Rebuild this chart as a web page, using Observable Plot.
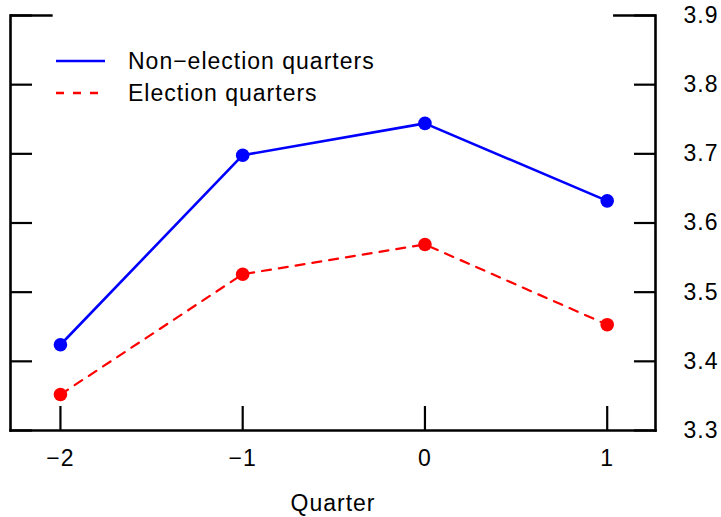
<!DOCTYPE html>
<html>
<head>
<meta charset="utf-8">
<script src="https://cdn.jsdelivr.net/npm/d3@7"></script>
<script src="https://cdn.jsdelivr.net/npm/@observablehq/plot@0.6"></script>
<style>
  html, body { margin: 0; padding: 0; background: #fff; }
  #wrap { position: relative; width: 721px; height: 517px; font-family: "Liberation Sans", Arial, sans-serif; }
  #legend { position: absolute; left: 56px; top: 45px; font-size: 23px; letter-spacing: 1px; color: #000; }
  .row { display: flex; align-items: center; height: 32px; }
  .row svg { margin-right: 23px; }
  #chart svg text { letter-spacing: 1px; }
</style>
</head>
<body>
<div id="wrap">
  <div id="chart"></div>
  <div id="legend"></div>
</div>
<script>
const quarters = [-2, -1, 0, 1];
const nonElection = [3.424, 3.698, 3.744, 3.632];
const election = [3.352, 3.526, 3.569, 3.453];
const seriesNames = ["Non\u2212election quarters", "Election quarters"];
const seriesColors = ["#0000ff", "#ff0000"];
const yTicks = [3.3, 3.4, 3.5, 3.6, 3.7, 3.8, 3.9];
const xTicks = [-2, -1, 0, 1];

const xDomain = [-2.274, 1.265];
const yDomain = [3.3, 3.9];

const data = [
  ...quarters.map((q, i) => ({q, v: nonElection[i], s: seriesNames[0]})),
  ...quarters.map((q, i) => ({q, v: election[i], s: seriesNames[1]}))
];
const nonData = data.filter(d => d.s === seriesNames[0]);
const elData = data.filter(d => d.s === seriesNames[1]);

const chart = Plot.plot({
  width: 721,
  height: 517,
  marginLeft: 10,
  marginRight: 66,
  marginTop: 15,
  marginBottom: 87,
  style: {fontFamily: "'Liberation Sans', Arial, sans-serif", fontSize: "23px", color: "#000", background: "#fff"},
  x: {domain: xDomain},
  y: {domain: yDomain},
  marks: [
    Plot.axisY(yTicks, {anchor: "left", tickSize: -22, text: null, strokeWidth: 2.2, label: null}),
    Plot.axisY(yTicks, {anchor: "right", tickSize: -22, text: null, strokeWidth: 2.2, label: null}),
    Plot.axisY(yTicks, {anchor: "right", tickSize: 0, tickPadding: 28, tickFormat: d3.format(".1f"), fontSize: 23, label: null}),
    Plot.axisX(xTicks, {anchor: "bottom", tickSize: -24, text: null, strokeWidth: 2.2, label: null}),
    Plot.axisX(xTicks, {anchor: "bottom", tickSize: 0, tickPadding: 19, tickFormat: d => d3.format("d")(d).replace("-", "\u2212"), fontSize: 23, label: "Quarter", labelAnchor: "center", labelOffset: 80, labelArrow: "none"}),
    Plot.frame({anchor: "left", strokeWidth: 2.6}),
    Plot.frame({anchor: "right", strokeWidth: 2.6}),
    Plot.frame({anchor: "bottom", strokeWidth: 2.6}),
    Plot.ruleY([yDomain[1]], {x1: xDomain[0], x2: -2.04, strokeWidth: 2.6}),
    Plot.ruleY([yDomain[1]], {x1: 1.035, x2: xDomain[1], strokeWidth: 2.6}),
    Plot.line(nonData, {x: "q", y: "v", stroke: seriesColors[0], strokeWidth: 2.6}),
    Plot.line(elData, {x: "q", y: "v", stroke: seriesColors[1], strokeWidth: 2.2, strokeDasharray: "9,8"}),
    Plot.dot(nonData, {x: "q", y: "v", fill: seriesColors[0], r: 6.8}),
    Plot.dot(elData, {x: "q", y: "v", fill: seriesColors[1], r: 6.8})
  ]
});
document.getElementById("chart").appendChild(chart);

const legend = document.getElementById("legend");
seriesNames.forEach((name, i) => {
  const row = document.createElement("div");
  row.className = "row";
  const dash = i === 1 ? ' stroke-dasharray="8,9"' : '';
  row.innerHTML = `<svg width="49" height="10"><line x1="0" y1="5" x2="49" y2="5" stroke="${seriesColors[i]}" stroke-width="2.4"${dash}/></svg><span>${name}</span>`;
  legend.appendChild(row);
});
</script>
</body>
</html>
